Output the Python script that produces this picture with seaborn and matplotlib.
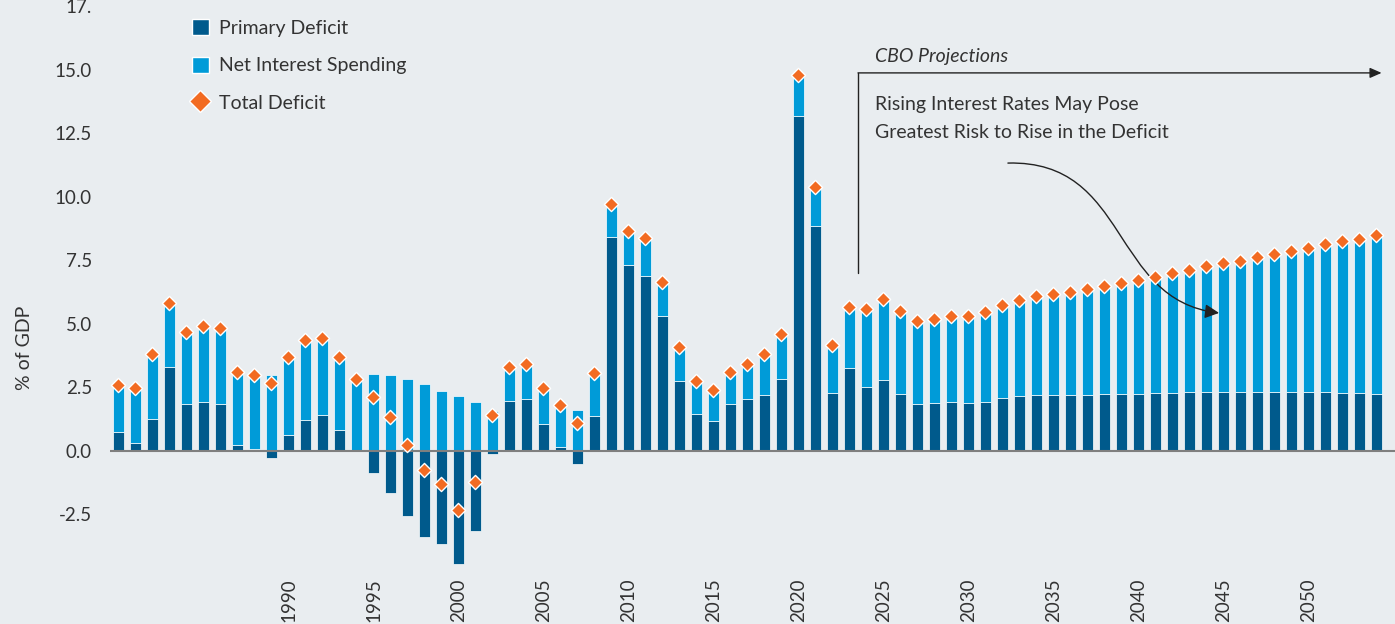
import matplotlib
matplotlib.use("Agg")
import matplotlib.pyplot as plt
import seaborn as sns
import numpy as np
import pandas as pd
from matplotlib.patches import Patch, FancyArrowPatch
from matplotlib.lines import Line2D
from matplotlib.path import Path

# données (% du PIB), 1980-2054 (projections CBO à partir de 2024)
years = list(range(1980, 2055))

primary_deficit = [
    0.75, 0.31, 1.25, 3.29, 1.84, 1.91, 1.84, 0.22, 0.05, -0.29,
    0.60, 1.20, 1.40, 0.80, 0.02, -0.90, -1.66, -2.59, -3.41, -3.69,
    -4.47, -3.15, -0.13, 1.95, 2.05, 1.03, 0.13, -0.51, 1.37, 8.40,
    7.32, 6.89, 5.29, 2.73, 1.44, 1.18, 1.82, 2.05, 2.19, 2.83,
    13.19, 8.86, 2.27, 3.24, 2.49, 2.78, 2.22, 1.84, 1.86, 1.93,
    1.88, 1.93, 2.06, 2.15, 2.19, 2.19, 2.18, 2.19, 2.22, 2.24,
    2.24, 2.27, 2.28, 2.30, 2.32, 2.31, 2.32, 2.32, 2.31, 2.32,
    2.31, 2.30, 2.28, 2.26, 2.23,
]

net_interest = [
    1.85, 2.17, 2.55, 2.51, 2.81, 3.01, 3.00, 2.88, 2.92, 2.97,
    3.09, 3.17, 3.04, 2.89, 2.80, 3.02, 2.98, 2.83, 2.64, 2.36,
    2.15, 1.93, 1.55, 1.34, 1.35, 1.44, 1.66, 1.59, 1.68, 1.29,
    1.34, 1.47, 1.35, 1.34, 1.30, 1.21, 1.28, 1.36, 1.62, 1.75,
    1.61, 1.52, 1.89, 2.43, 3.07, 3.20, 3.28, 3.28, 3.32, 3.37,
    3.42, 3.53, 3.67, 3.78, 3.89, 3.99, 4.08, 4.17, 4.28, 4.37,
    4.48, 4.58, 4.70, 4.80, 4.94, 5.07, 5.16, 5.29, 5.42, 5.54,
    5.68, 5.82, 5.99, 6.09, 6.25,
]

total_deficit = [
    2.60, 2.48, 3.80, 5.80, 4.65, 4.92, 4.84, 3.10, 2.97, 2.68,
    3.69, 4.37, 4.44, 3.69, 2.82, 2.12, 1.32, 0.24, -0.77, -1.33,
    -2.32, -1.22, 1.42, 3.29, 3.40, 2.47, 1.79, 1.08, 3.05, 9.69,
    8.66, 8.36, 6.64, 4.07, 2.74, 2.39, 3.10, 3.41, 3.81, 4.58,
    14.80, 10.38, 4.16, 5.67, 5.56, 5.98, 5.50, 5.12, 5.18, 5.30,
    5.30, 5.46, 5.73, 5.93, 6.08, 6.18, 6.26, 6.36, 6.50, 6.61,
    6.72, 6.85, 6.98, 7.10, 7.26, 7.38, 7.48, 7.61, 7.73, 7.86,
    7.99, 8.12, 8.27, 8.35, 8.48,
]

tick_years = [1990, 1995, 2000, 2005, 2010, 2015, 2020, 2025, 2030, 2035, 2040, 2045, 2050]
ytick_values = [-2.5, 0.0, 2.5, 5.0, 7.5, 10.0, 12.5, 15.0, 17.5]
ytick_labels = ["-2.5", "0.0", "2.5", "5.0", "7.5", "10.0", "12.5", "15.0", "17."]

DARK = "#005A8C"
LIGHT = "#009BD8"
ORANGE = "#F26B22"
BG = "#E9EDF0"
TXT = "#333333"

sns.set_theme(style="white")
plt.rcParams["font.family"] = ["Lato", "DejaVu Sans"]

df = pd.DataFrame({
    "year": years,
    "primary": primary_deficit,
    "interest": net_interest,
    "total": total_deficit,
})
# les intérêts s'empilent au-dessus du déficit primaire quand il est positif
df["base"] = df["primary"].clip(lower=0)

fig = plt.figure(figsize=(13.95, 6.24), dpi=100, facecolor=BG)
ax = fig.add_axes([110 / 1395, 54 / 624, 1285 / 1395, 570 / 624])
ax.set_facecolor(BG)

sns.barplot(data=df, x="year", y="primary", color=DARK, saturation=1, width=0.6,
            errorbar=None, edgecolor="white", linewidth=0.5, ax=ax)
sns.barplot(data=df, x="year", y="interest", bottom=df["base"].values, color=LIGHT,
            saturation=1, width=0.6, errorbar=None, edgecolor="white", linewidth=0.5, ax=ax)
ax.axhline(0, color="#7F7F7F", lw=1.5, zorder=3)
sns.scatterplot(x=np.arange(len(years)), y=df["total"], marker="D", s=52, color=ORANGE,
                edgecolor="white", linewidth=1, zorder=4, ax=ax)

ax.set_xlim(-0.5, 75.09)
ax.set_ylim(-4.70, 17.74)
ax.set_xticks([years.index(y) for y in tick_years])
ax.set_xticklabels([str(y) for y in tick_years], rotation=90)
ax.set_yticks(ytick_values, ytick_labels)
ax.tick_params(axis="both", length=0, labelsize=13.5, colors=TXT)
ax.tick_params(axis="y", pad=13)
ax.tick_params(axis="x", pad=6)
ax.set_xlabel("")
ax.set_ylabel("% of GDP", fontsize=14, color=TXT)
ax.yaxis.set_label_coords(-0.060, 0.39)
sns.despine(ax=ax, left=True, bottom=True)

# légende
handles = [
    Patch(facecolor=DARK),
    Patch(facecolor=LIGHT),
    Line2D([], [], marker="D", ls="none", color=ORANGE, markersize=11.5, markeredgecolor="white"),
]
ax.legend(handles, ["Primary Deficit", "Net Interest Spending", "Total Deficit"],
          loc="upper left", bbox_to_anchor=(0.053, 0.99), frameon=False, fontsize=14,
          handlelength=0.9, handleheight=0.9, handletextpad=0.5, labelspacing=1.0,
          borderpad=0.2, labelcolor=TXT)

# annotations projections CBO
ax.plot([43.5, 43.5], [7.0, 14.87], color="#222222", lw=1)
ax.annotate("", xy=(74.3, 14.87), xytext=(43.5, 14.87),
            arrowprops=dict(arrowstyle="-|>,head_length=0.5,head_width=0.22", color="#222222",
                            lw=1, shrinkA=0, shrinkB=0, mutation_scale=14))
ax.text(44.5, 15.5, "CBO Projections", style="italic", fontsize=14, color=TXT, va="center")
ax.text(44.5, 13.08, "Rising Interest Rates May Pose\nGreatest Risk to Rise in the Deficit",
        fontsize=14, color=TXT, va="center", linespacing=1.75)

curve = Path([(52.32, 11.32), (59.5, 11.44), (58.32, 5.93), (64.74, 5.42)],
             [Path.MOVETO, Path.CURVE4, Path.CURVE4, Path.CURVE4])
ax.add_patch(FancyArrowPatch(path=curve, arrowstyle="-|>,head_length=0.5,head_width=0.25",
                             mutation_scale=17, color="#222222", lw=1))

fig.savefig("out.png", dpi=100, facecolor=BG)
